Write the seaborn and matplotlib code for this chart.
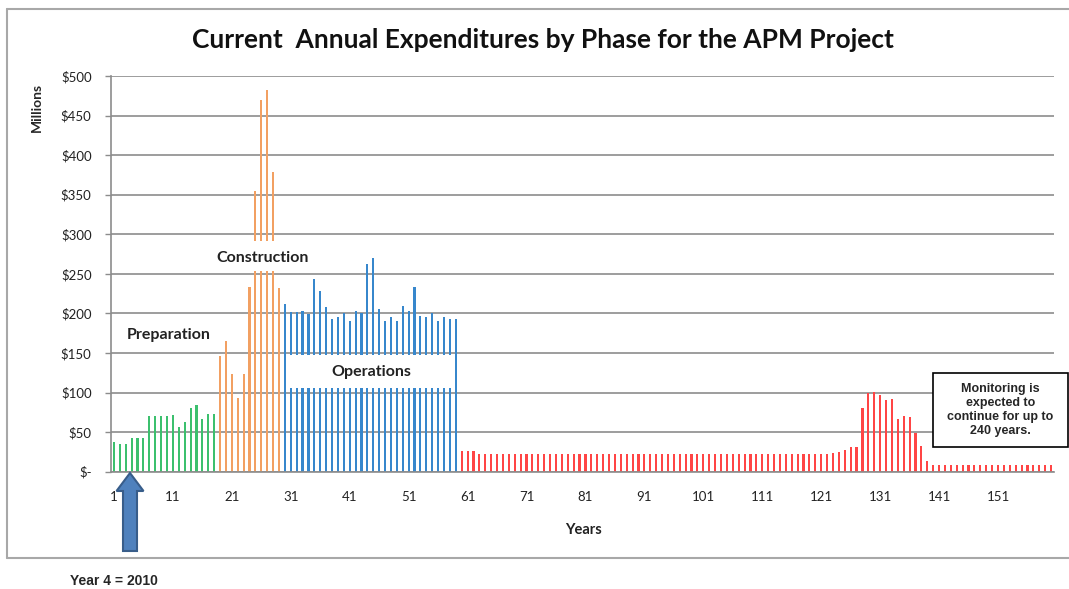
import pandas as pd
import matplotlib.pyplot as plt
import seaborn as sns
from matplotlib.patches import Rectangle, FancyArrow
from matplotlib.lines import Line2D
from matplotlib.transforms import IdentityTransform

# Annual expenditures ($ millions), by phase
preparation = [37, 35, 35, 43, 43, 43, 71, 71, 71, 71, 72, 57, 63, 80, 84, 66, 73, 73]
construction = [146, 165, 123, 93, 123, 234, 355, 470, 482, 379, 232]
operations = [212, 202, 202, 203, 199, 243, 228, 208, 193, 195,
              200, 190, 203, 200, 263, 270, 205, 190, 195, 190,
              209, 203, 234, 197, 195, 200, 190, 195, 193, 193]
monitoring = [26, 26, 26, 22, 22, 22, 22, 22, 22, 22,
              22, 22, 22, 22, 22, 22, 22, 22, 22, 22,
              22, 22, 22, 22, 22, 22, 22, 22, 22, 22,
              22, 22, 22, 22, 22, 22, 22, 22, 22, 22,
              22, 22, 22, 22, 22, 22, 22, 22, 22, 22,
              22, 22, 22, 22, 22, 22, 22, 22, 22, 22,
              22, 22, 22, 23, 25, 27, 31, 31, 81, 100,
              101, 97, 90, 92, 67, 70, 69, 49, 33, 14,
              8, 8, 8, 8, 8, 8, 8, 8, 8, 8,
              8, 8, 8, 8, 8, 8, 8, 8, 8, 8, 8]

phase_names = ['Preparation', 'Construction', 'Operations', 'Monitoring']
phase_colors = ['#3cc06e', '#f2a062', '#3787cc', '#ff4545']
y_ticks = [0, 50, 100, 150, 200, 250, 300, 350, 400, 450, 500]
y_tick_labels = ['\\$-', '\\$50', '\\$100', '\\$150', '\\$200', '\\$250',
                 '\\$300', '\\$350', '\\$400', '\\$450', '\\$500']

values = preparation + construction + operations + monitoring
phases = (['Preparation'] * len(preparation) + ['Construction'] * len(construction)
          + ['Operations'] * len(operations) + ['Monitoring'] * len(monitoring))
years = list(range(1, len(values) + 1))
df = pd.DataFrame({'year': years, 'value': values, 'phase': phases})

sns.set_style('white')
plt.rcParams['font.family'] = ['Lato', 'DejaVu Sans']

W, H = 1069, 589
fig = plt.figure(figsize=(W / 100, H / 100), dpi=100)
ax = fig.add_axes([111 / W, 1 - 471.7 / H, (1054 - 111) / W, (471.7 - 76) / H])

sns.barplot(data=df, x='year', y='value', hue='phase', order=years,
            hue_order=phase_names, palette=dict(zip(phase_names, phase_colors)),
            dodge=False, width=0.36, saturation=1, legend=False, ax=ax, zorder=2,
            edgecolor='none', linewidth=0)

ax.set_xlim(-0.5, len(years) - 0.5)
ax.set_ylim(0, 500)
ax.set_yticks(y_ticks)
ax.set_yticklabels(y_tick_labels)
major = list(range(0, len(years), 10))
ax.set_xticks(major)
ax.set_xticklabels([str(years[i]) for i in major])
ax.set_xticks([i - 0.5 for i in range(len(years) + 1)], minor=True)
ax.tick_params(axis='x', which='major', length=0, pad=14, labelsize=9.5, labelcolor='#222222')
ax.tick_params(axis='x', which='minor', length=4, width=1, color='#8c8c8c', direction='out')
ax.tick_params(axis='y', length=4, width=1, color='#8c8c8c', pad=10, labelsize=9.5,
               labelcolor='#222222', left=True)
ax.set_xlabel('')
ax.set_ylabel('')
ax.yaxis.grid(True, color='#8c8c8c', lw=1.2)
ax.set_axisbelow(True)
for s in ['top', 'right']:
    ax.spines[s].set_visible(False)
for s in ['left', 'bottom']:
    ax.spines[s].set_color('#8c8c8c')
    ax.spines[s].set_linewidth(1.2)

# phase labels sitting on white boxes
ax.add_patch(Rectangle((16.8, 253.5), 17.0, 38, fc='white', ec='none', zorder=3))
ax.add_patch(Rectangle((29.4, 106), 28.1, 41.5, fc='white', ec='none', zorder=3))
ax.text(9.3, 172.7, 'Preparation', fontsize=11.5, fontweight='bold', color='#222222',
        ha='center', va='center', zorder=4)
ax.text(25.3, 270, 'Construction', fontsize=11.5, fontweight='bold', color='#222222',
        ha='center', va='center', zorder=4)
ax.text(43.6, 126, 'Operations', fontsize=11.5, fontweight='bold', color='#222222',
        ha='center', va='center', zorder=4)

# monitoring note
fig.add_artist(Rectangle((933 / W, 1 - 447 / H), 135 / W, 74 / H, transform=fig.transFigure,
                         fc='white', ec='black', lw=1.2, zorder=5))
fig.text(1000.5 / W, 1 - 410 / H, 'Monitoring is\nexpected to\ncontinue for up to\n240 years.',
         family='Liberation Sans', fontsize=9, fontweight='bold', ha='center', va='center',
         multialignment='center', linespacing=1.25, zorder=6)

# chart border (right side runs off the image)
bc = '#a8a8a8'
fig.add_artist(Line2D([6.5 / W, 6.5 / W], [1 - 8.5 / H, 1 - 558 / H], color=bc, lw=1.5))
fig.add_artist(Line2D([6.5 / W, 1], [1 - 8.5 / H, 1 - 8.5 / H], color=bc, lw=1.5))
fig.add_artist(Line2D([6.5 / W, 1], [1 - 558 / H, 1 - 558 / H], color=bc, lw=1.5))

fig.text(543 / W, 1 - 40 / H, 'Current  Annual Expenditures by Phase for the APM Project',
         fontsize=19, fontweight='bold', ha='center', va='center', color='#111111')
fig.text(37 / W, 1 - 107.5 / H, 'Millions', fontsize=10, fontweight='bold', rotation=90,
         ha='center', va='center')
fig.text(583 / W, 1 - 530 / H, 'Years', fontsize=10.5, fontweight='bold', ha='center',
         va='center', color='#222222')
fig.text(70 / W, 1 - 581 / H, 'Year 4 = 2010', family='Liberation Sans', fontsize=10,
         fontweight='bold', ha='left', va='center')

# arrow pointing at year 4
fig.add_artist(FancyArrow(130, H - 551, 0, 78, width=14, head_width=27, head_length=18,
                          length_includes_head=True, fc='#4f81bd', ec='#385d8a', lw=1.5,
                          transform=IdentityTransform(), zorder=7))

fig.savefig('out.png', dpi=100)
